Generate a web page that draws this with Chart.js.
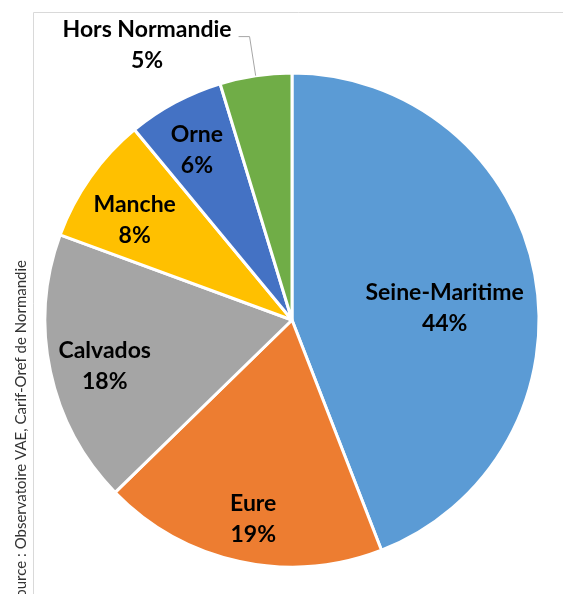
<!DOCTYPE html>
<html>
<head>
<meta charset="utf-8">
<script src="https://cdn.jsdelivr.net/npm/chart.js@4.4.0/dist/chart.umd.min.js"></script>
<style>
  html, body { margin: 0; padding: 0; background: #fff; }
  #wrap { position: relative; width: 563px; height: 594px; overflow: hidden; }
</style>
</head>
<body>
<div id="wrap"><canvas id="pie" width="563" height="594"></canvas></div>
<script>
// departements, in drawing order (clockwise from 12 o'clock)
const departements = ["Seine-Maritime", "Eure", "Calvados", "Manche", "Orne", "Hors Normandie"];
// share of VAE candidates, %
const parts = [44.1, 18.6, 17.9, 8.4, 6.3, 4.7];
const couleurs = ["#5B9BD5", "#ED7D31", "#A5A5A5", "#FFC000", "#4472C4", "#70AD47"];
const source = "Source : Observatoire VAE, Carif-Oref de Normandie";

// label placement: [fraction of radius, angle shift in degrees]
const labelPlace = [[0.62, 6], [0.82, -1.2], [0.78, -1.5], [0.755, -2.8], [0.79, -0.9], [1.26, -19.3]];
const labelFont = "bold 23px Lato";

const ctx = document.getElementById("pie").getContext("2d");

const cadre = {
  id: "cadre",
  beforeDraw(chart) {
    const c = chart.ctx;
    c.save();
    c.strokeStyle = "#d9d9d9";
    c.lineWidth = 1;
    c.beginPath();
    c.moveTo(33.5, 600);
    c.lineTo(33.5, 12.5);
    c.lineTo(570, 12.5);
    c.stroke();
    // source text, vertical
    c.translate(21, 260);
    c.rotate(-Math.PI / 2);
    c.fillStyle = "#333333";
    c.font = "15px Lato";
    c.textAlign = "right";
    c.textBaseline = "middle";
    c.fillText(source, 0, 0);
    c.restore();
  },
};

const etiquettes = {
  id: "etiquettes",
  afterDatasetsDraw(chart) {
    const c = chart.ctx;
    const arcs = chart.getDatasetMeta(0).data;
    c.save();
    c.font = labelFont;
    c.fillStyle = "#000";
    c.textAlign = "center";
    c.textBaseline = "middle";
    arcs.forEach((arc, i) => {
      const mid = (arc.startAngle + arc.endAngle) / 2;
      const [frac, shift] = labelPlace[i];
      const a = mid + shift * Math.PI / 180;
      const r = arc.outerRadius * frac;
      const x = arc.x + Math.cos(a) * r;
      const y = arc.y + Math.sin(a) * r;
      const pct = Math.round(parts[i]) + "%";
      c.fillText(departements[i], x, y - 15);
      c.fillText(pct, x, y + 16);
      if (frac > 1) {
        // leader line
        const w = c.measureText(departements[i]).width;
        const hx = x + w / 2 + 7;
        const ey = y - 8;
        c.strokeStyle = "#a6a6a6";
        c.lineWidth = 1;
        c.beginPath();
        c.moveTo(hx, ey);
        c.lineTo(hx + 11, ey);
        c.lineTo(arc.x + Math.cos(mid) * arc.outerRadius, arc.y + Math.sin(mid) * arc.outerRadius);
        c.stroke();
      }
    });
    c.restore();
  },
};

new Chart(ctx, {
  type: "pie",
  data: {
    labels: departements,
    datasets: [{
      data: parts,
      backgroundColor: couleurs,
      borderColor: "#ffffff",
      borderWidth: 3,
    }],
  },
  options: {
    responsive: false,
    animation: false,
    radius: 247,
    layout: { padding: { left: 21, right: 0, top: 46, bottom: 0 } },
    plugins: { legend: { display: false }, tooltip: { enabled: false } },
  },
  plugins: [cadre, etiquettes],
});
</script>
</body>
</html>
